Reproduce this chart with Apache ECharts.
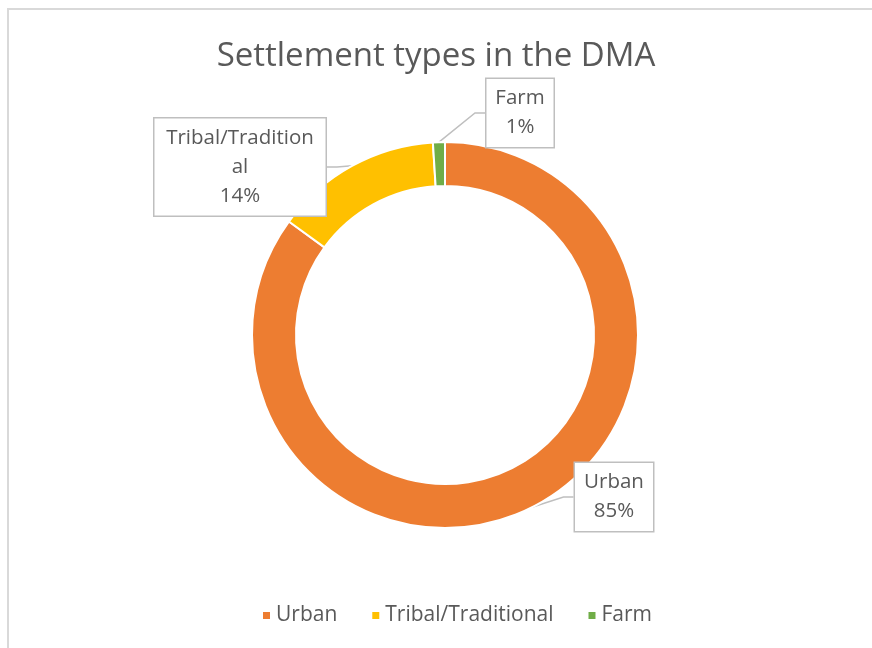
<!DOCTYPE html>
<html>
<head>
<meta charset="utf-8">
<script src="https://cdn.jsdelivr.net/npm/echarts@6/dist/echarts.min.js"></script>
<style>
html,body{margin:0;padding:0;background:#fff;}
#frame{position:absolute;left:7px;top:8px;width:900px;height:700px;border-left:2px solid #d9d9d9;border-top:2px solid #d9d9d9;}
#chart{position:absolute;left:0;top:0;width:872px;height:648px;}
</style>
</head>
<body>
<div id="frame"></div>
<div id="chart"></div>
<script>
const categories = ["Urban", "Tribal/Traditional", "Farm"];
const labelTexts = ["Urban", "Tribal/Tradition\nal", "Farm"];
const percentValues = [85, 14, 1];
const colors = ["#ED7D31", "#FFC000", "#70AD47"];

const labelPos = {
  "Urban": {x: 614, y: 497, w: 70},
  "Tribal/Traditional": {x: 240, y: 167, w: 163},
  "Farm": {x: 520, y: 113, w: 59}
};

const chart = echarts.init(document.getElementById('chart'), null, {renderer: 'canvas'});
const fontFamily = '"Open Sans", "Liberation Sans", sans-serif';

const data = categories.map((c, i) => ({
  name: c,
  value: percentValues[i],
  itemStyle: {color: colors[i]},
  label: {width: labelPos[c].w}
}));

chart.setOption({
  animation: false,
  title: {
    text: 'Settlement types in the DMA',
    left: 'center',
    top: 35,
    textStyle: {fontFamily: fontFamily, fontSize: 33, fontWeight: 'normal', color: '#595959'}
  },
  legend: {
    data: categories,
    bottom: 17,
    left: 256,
    icon: 'rect',
    itemWidth: 9,
    itemHeight: 9,
    itemGap: 33,
    textStyle: {fontFamily: fontFamily, fontSize: 21, color: '#595959'}
  },
  series: [{
    type: 'pie',
    center: [445, 335],
    radius: [149, 193],
    startAngle: 90,
    clockwise: true,
    avoidLabelOverlap: false,
    itemStyle: {borderColor: '#fff', borderWidth: 2},
    data: data,
    label: {
      show: true,
      position: 'outside',
      formatter: function (p) { return labelTexts[p.dataIndex] + '\n' + p.value + '%'; },
      fontFamily: fontFamily,
      fontSize: 20.5,
      lineHeight: 29,
      color: '#595959',
      backgroundColor: '#fff',
      borderColor: '#bfbfbf',
      borderWidth: 1.5,
      padding: [5, 4],
      align: 'center'
    },
    labelLine: {show: true, length: 10, length2: 10, lineStyle: {color: '#bfbfbf', width: 1.5}},
    labelLayout: function (params) {
      const name = categories[params.dataIndex];
      const p = labelPos[name];
      return {x: p.x, y: p.y, align: 'center', verticalAlign: 'middle'};
    }
  }]
});
</script>
</body>
</html>
